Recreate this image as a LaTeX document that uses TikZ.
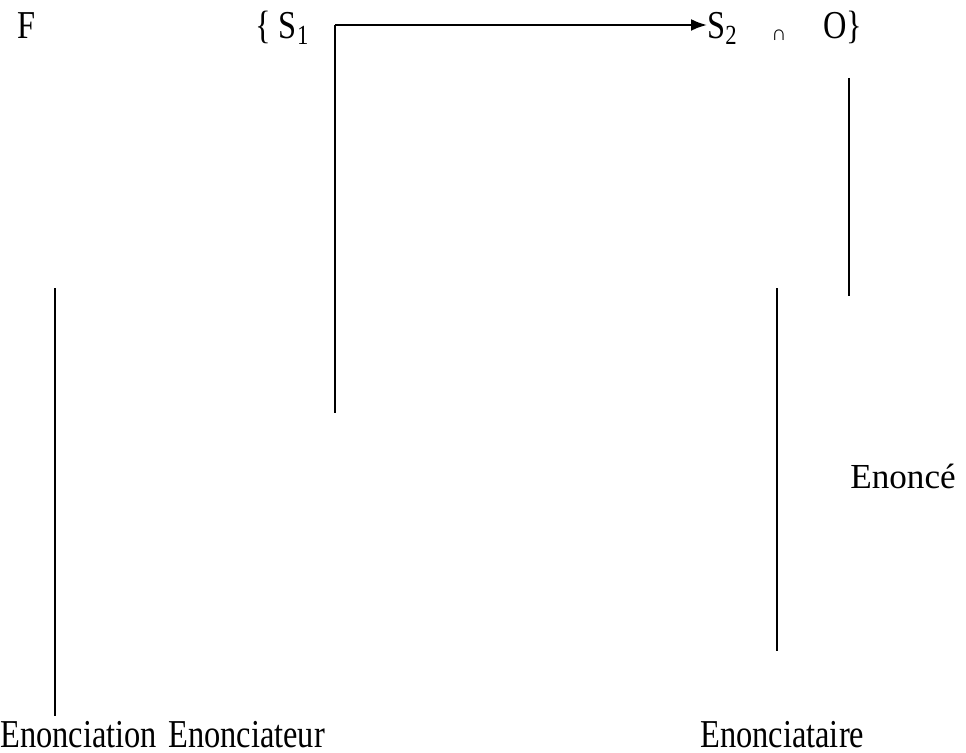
\documentclass[tikz,border=0pt]{standalone}
\usepackage{fontspec}
\setmainfont{Liberation Serif}
\newfontfamily\tallserif{Liberation Serif}[FakeStretch=0.82]
\usepackage{tikz}
\usetikzlibrary{positioning,arrows.meta}
\tikzstyle{word}=[inner sep=0pt,anchor=base west,font=\tallserif\fontsize{22.5}{26}\selectfont]
\tikzstyle{bigword}=[inner sep=0pt,anchor=base west,font=\fontsize{20}{24}\selectfont]
\tikzstyle{small}=[inner sep=0pt,anchor=base west,font=\fontsize{12}{14}\selectfont]
\tikzstyle{stem}=[line width=1.1pt]
\tikzstyle{mypath}=[line width=1.3pt,-{Latex[length=3.2mm,width=2.4mm]}]

\begin{document}
\begin{tikzpicture}[x=0.02cm,y=-0.02cm]
                \useasboundingbox (0,0) rectangle (966,753);

                \node[word] (f) at (17,39) {F};
                \node[word] (s1) at (255,39) {\{ S\textsubscript{1}};
                \node[word] (s2) at (707,39) {S\textsubscript{2}};
                \node[small] (cap) at (771,41) {∩};
                \node[word] (o) at (823,39) {O\}};

                \node[bigword] (enonce) at (850,488) {Enoncé};
                \node[word] (enonciation) at (0,747) {Enonciation};
                \node[word] (enonciateur) at (168,747) {Enonciateur};
                \node[word] (enonciataire) at (700,747) {Enonciataire};

                \coordinate (corner) at (335,25);
                \coordinate (s1foot) at (335,413);
                \coordinate (otop) at (849,78);
                \coordinate (ofoot) at (849,296);
                \coordinate (tairetop) at (777,288);
                \coordinate (tairefoot) at (777,651);
                \coordinate (tiontop) at (55,288);
                \coordinate (tionfoot) at (55,716);

                \draw[mypath] (corner) -- (corner -| s2.west);
                \draw[stem] (corner) -- (s1foot);
                \draw[stem] (otop) -- (ofoot);
                \draw[stem] (tairetop) -- (tairefoot);
                \draw[stem] (tiontop) -- (tionfoot);
\end{tikzpicture}
\end{document}
